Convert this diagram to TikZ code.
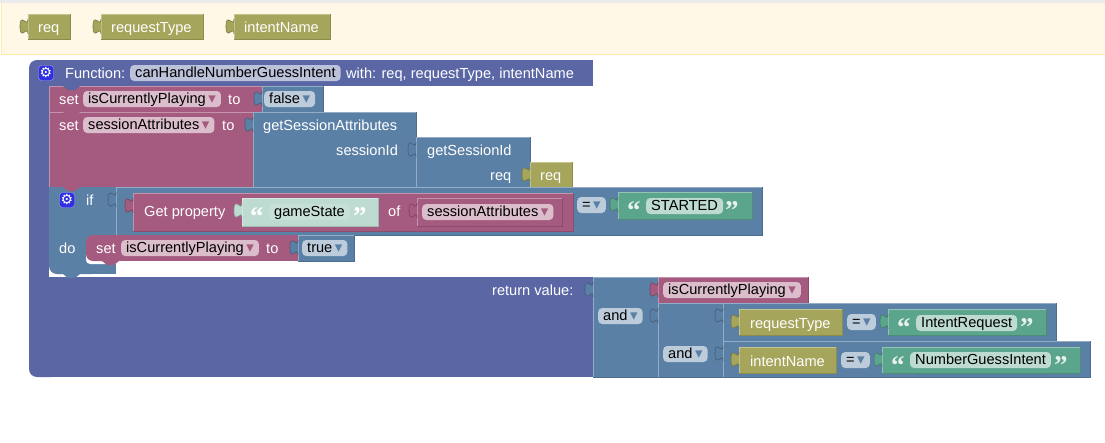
\documentclass[tikz,border=0pt]{standalone}
\usepackage{fontspec}
\setmainfont{Liberation Sans}
\newfontfamily\symfont{DejaVu Sans}
\newfontfamily\quotefont{Liberation Serif}[BoldFont={Liberation Serif Bold}]
\usetikzlibrary{positioning}
\definecolor{fnblk}{HTML}{5B67A5}
\definecolor{varblk}{HTML}{A55B80}
\definecolor{ctlblk}{HTML}{5B80A5}
\definecolor{argblk}{HTML}{A5A55B}
\definecolor{strblk}{HTML}{5BA58C}
\definecolor{palette}{HTML}{FFF8E7}
\definecolor{paletteline}{HTML}{FFE9AE}
\definecolor{gearblk}{HTML}{3030E0}
\tikzset{
  lbl/.style={text=white,anchor=base west,inner sep=0pt},
  fld/.style={fill=#1,text=black,anchor=west,rounded corners=4pt,inner xsep=5pt,inner ysep=1pt,
    text height=11pt,text depth=3pt,minimum height=16pt},
  qt/.style={text=#1,anchor=base west,inner sep=0pt,font=\quotefont\bfseries\fontsize{27}{27}\selectfont},
  gear/.style={fill=gearblk,draw=gearblk!45!white,rounded corners=3pt,text=white,inner sep=0pt,
    minimum size=15pt,font=\symfont\fontsize{14}{14}\selectfont}
}
\newcommand\ddn[1]{{\symfont\fontsize{15}{13}\selectfont\color{#1}\,\symbol{"25BE}}}
% value tab on the left side of a block
\newcommand\tabat[3]{\filldraw[fill=#3,draw=#3!72!black,line width=.6pt] (#1,#2+5) .. controls (#1,#2+15) and (#1-8,#2-3) .. (#1-8,#2+12.5) .. controls (#1-8,#2+28) and (#1,#2+10) .. (#1,#2+20);}
\newcommand\blk[5]{\fill[#5] (#1,#2) rectangle (#3,#4);
  \draw[#5!65!white,line width=.7pt] (#1,#4) -- (#1,#2) -- (#3,#2);
  \draw[#5!85!black,line width=.7pt] (#3,#2) -- (#3,#4) -- (#1,#4);}
% statement notch hanging under a block
\newcommand\notch[3]{\fill[#3] (#1,#2) -- (#1+5,#2+4) -- (#1+12,#2+4) -- (#1+17,#2) -- cycle;}
\begin{document}
\begin{tikzpicture}[x=1pt,y=-1pt,font=\fontsize{14.6}{16}\selectfont]
\useasboundingbox (0,0) rectangle (1105,442);
\fill[white] (0,0) rectangle (1105,442);
\fill[black!8] (0,0) rectangle (1105,3);
\fill[palette] (1,3) rectangle (1105,54);
\draw[paletteline] (1,3) -- (1,54) -- (1105,54);
% palette
\blk{28}{14}{70}{39}{argblk} \tabat{28}{14}{argblk}
\blk{101}{14}{203}{39}{argblk} \tabat{101}{14}{argblk}
\blk{234}{14}{330}{39}{argblk} \tabat{234}{14}{argblk}
\node[lbl] (palreq) at (38,32) {req};
\node[lbl] (paltype) at (111,32) {requestType};
\node[lbl] (palname) at (244,32) {intentName};
% function frame
\fill[fnblk,rounded corners=8pt] (29,60) rectangle (60,377);
\fill[fnblk] (45,60) rectangle (593,86);
\fill[fnblk] (45,277) rectangle (593,377);
\fill[white] (49,86) rectangle (60,277);
\node[gear] (fngear) at (46,73) {\symbol{"2699}};
\node[lbl] (fnlabel) at (65,78) {Function:};
\node[fld=fnblk!40!white] (fnname) at (130,73) {canHandleNumberGuessIntent};
\node[lbl] (fnargs) at (346,78) {with: req, requestType, intentName};
% first set
\blk{49}{86}{262}{112}{varblk}
\notch{63}{86}{fnblk}
\blk{262}{86}{323}{112}{ctlblk} \tabat{262}{86}{ctlblk}
\node[lbl] (setone) at (59,104) {set};
\node[fld=varblk!40!white] (playvar) at (83,99) {isCurrentlyPlaying\ddn{varblk}};
\node[lbl] (toone) at (228,104) {to};
\node[fld=ctlblk!40!white] (falseval) at (264,99) {false\ddn{ctlblk}};
% second set
\blk{49}{112}{253}{187}{varblk}
\notch{63}{112}{varblk}
\blk{253}{112}{416}{187}{ctlblk} \tabat{253}{112}{ctlblk}
\node[lbl] (settwo) at (59,130) {set};
\node[fld=varblk!40!white] (attrvar) at (83,125) {sessionAttributes\ddn{varblk}};
\node[lbl] (totwo) at (222,130) {to};
\node[lbl] (getattr) at (263,130) {getSessionAttributes};
\node[lbl] (sidlabel) at (336,155) {sessionId};
\blk{416}{137}{530}{187}{ctlblk} \tabat{416}{137}{ctlblk}
\node[lbl] (getsid) at (427,155) {getSessionId};
\node[lbl] (reqlabel) at (490,180) {req};
\blk{530}{162}{572}{187}{argblk} \tabat{530}{162}{argblk}
\node[lbl] (reqval) at (540,180) {req};
% if block
\fill[ctlblk,rounded corners=8pt] (49,200) rectangle (100,274);
\fill[ctlblk] (49,187) rectangle (116,235);
\fill[ctlblk] (70,264) rectangle (116,274);
\notch{63}{274}{ctlblk}
\notch{63}{187}{varblk}
\blk{116}{187}{762}{235}{ctlblk} \tabat{116}{187}{ctlblk}
\node[gear] (ifgear) at (67,200) {\symbol{"2699}};
\node[lbl] (iflabel) at (86,205) {if};
\node[lbl] (dolabel) at (59,253) {do};
\blk{133}{193}{573}{231}{varblk} \tabat{133}{193}{varblk}
\node[lbl] (getprop) at (144,216) {Get property};
\blk{242}{198}{378}{226}{strblk!40!white} \tabat{242}{198}{strblk!40!white}
\node[qt=white] (gsl) at (250,225) {“};
\node[fld=white!65!strblk] (gamestate) at (269,212) {gameState};
\node[qt=white] (gsr) at (353,225) {”};
\node[lbl] (oflabel) at (388,216) {of};
\blk{417}{198}{562}{226}{varblk} \tabat{417}{198}{varblk}
\node[fld=varblk!40!white] (attrref) at (422,212) {sessionAttributes\ddn{varblk}};
\node[fld=ctlblk!40!white] (eqone) at (577,205) {=\ddn{ctlblk}};
\blk{618}{192}{752}{219}{strblk} \tabat{618}{192}{strblk}
\node[qt=white!85!strblk] (stl) at (627,219) {“};
\node[fld=strblk!40!white] (started) at (646,206) {STARTED};
\node[qt=white!85!strblk] (str) at (725,219) {”};
% set inside do
\fill[white,rounded corners=4pt] (86,245) rectangle (116,264);
\fill[varblk,rounded corners=7pt] (86,235) rectangle (120,261);
\fill[varblk] (100,235) rectangle (298,261);
\notch{102}{261}{varblk}
\blk{298}{235}{354}{261}{ctlblk} \tabat{298}{235}{ctlblk}
\node[lbl] (setdo) at (96,253) {set};
\node[fld=varblk!40!white] (playdo) at (121,248) {isCurrentlyPlaying\ddn{varblk}};
\node[lbl] (todo) at (266,253) {to};
\node[fld=ctlblk!40!white] (trueval) at (302,248) {true\ddn{ctlblk}};
% return value
\node[lbl] (retlabel) at (492,295) {return value:};
\blk{593}{277}{658}{377}{ctlblk} \tabat{593}{277}{ctlblk}
\node[fld=ctlblk!40!white] (andone) at (598,316) {and\ddn{ctlblk}};
\blk{658}{277}{808}{303}{varblk} \tabat{658}{277}{varblk}
\node[fld=varblk!40!white] (playret) at (663,290) {isCurrentlyPlaying\ddn{varblk}};
\blk{658}{303}{723}{377}{ctlblk} \tabat{658}{303}{ctlblk}
\node[fld=ctlblk!40!white] (andtwo) at (663,354) {and\ddn{ctlblk}};
\blk{723}{303}{1056}{341}{ctlblk} \tabat{723}{303}{ctlblk}
\blk{739}{309}{842}{335}{argblk} \tabat{739}{309}{argblk}
\node[lbl] (typeref) at (750,328) {requestType};
\node[fld=ctlblk!40!white] (eqtwo) at (847,322) {=\ddn{ctlblk}};
\blk{888}{309}{1046}{335}{strblk} \tabat{888}{309}{strblk}
\node[qt=white!85!strblk] (irl) at (897,336) {“};
\node[fld=strblk!40!white] (intentreq) at (916,323) {IntentRequest};
\node[qt=white!85!strblk] (irr) at (1020,336) {”};
\blk{723}{341}{1090}{377}{ctlblk} \tabat{723}{341}{ctlblk}
\blk{739}{347}{836}{373}{argblk} \tabat{739}{347}{argblk}
\node[lbl] (nameref) at (750,366) {intentName};
\node[fld=ctlblk!40!white] (eqthree) at (841,360) {=\ddn{ctlblk}};
\blk{882}{347}{1080}{373}{strblk} \tabat{882}{347}{strblk}
\node[qt=white!85!strblk] (ngl) at (891,374) {“};
\node[fld=strblk!40!white] (guess) at (910,360) {NumberGuessIntent};
\node[qt=white!85!strblk] (ngr) at (1054,374) {”};
\end{tikzpicture}
\end{document}
